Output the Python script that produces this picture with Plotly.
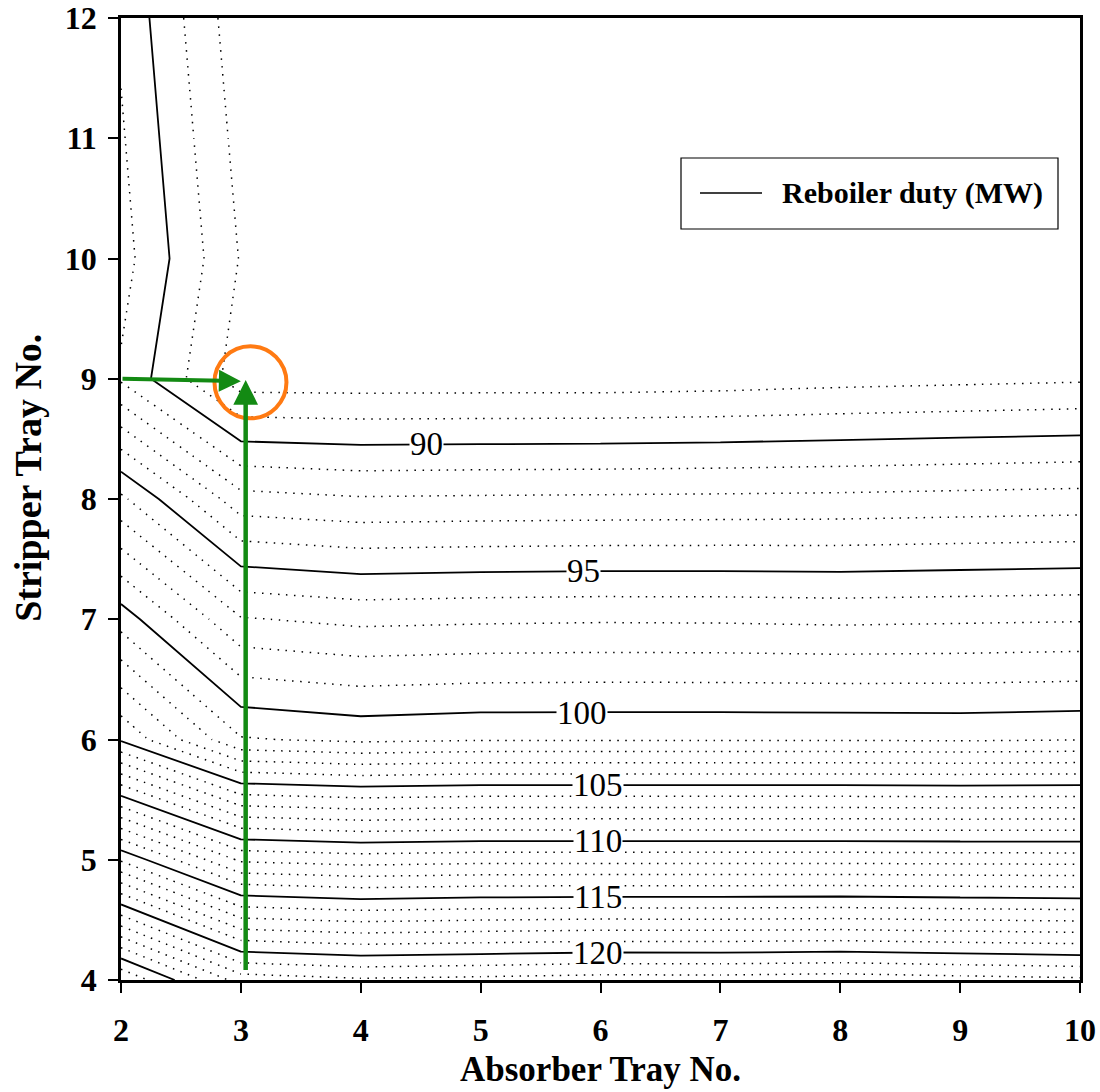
import numpy as np
import plotly.graph_objects as go

# Absorber tray numbers (x) and stripper tray numbers (y)
absorber_trays = [2, 3, 4, 5, 6, 7, 8, 9, 10]
stripper_trays = [4, 5, 6, 7, 8, 9, 10, 11, 12]

# Reboiler duty (MW) along the stripper trays 4..12, one list per absorber tray
duty_abs2 = [127.0, 115.86, 104.85, 100.55, 96.22, 90.85, 91.41, 91.12, 90.83]
duty_abs3 = [122.53, 111.82, 101.09, 97.08, 92.35, 87.45, 87.93, 87.63, 87.33]
duty_abs4 = [122.15, 111.53, 100.78, 96.75, 92.09, 87.44, 87.50, 87.50, 87.50]
duty_abs5 = [122.29, 111.67, 100.92, 96.84, 92.14, 87.45, 87.50, 87.50, 87.50]
duty_abs6 = [122.47, 111.67, 100.92, 96.89, 92.17, 87.45, 87.50, 87.50, 87.50]
duty_abs7 = [122.45, 111.67, 100.92, 96.87, 92.20, 87.53, 87.50, 87.50, 87.50]
duty_abs8 = [122.57, 111.67, 100.92, 96.80, 92.24, 87.67, 87.50, 87.50, 87.50]
duty_abs9 = [122.37, 111.63, 100.88, 96.86, 92.32, 87.77, 87.50, 87.50, 87.50]
duty_abs10 = [122.20, 111.60, 100.96, 96.92, 92.40, 87.87, 87.50, 87.50, 87.50]

# Labelled (major) contour levels and where their labels sit
major_levels = [90, 95, 100, 105, 110, 115, 120]
label_x = [4.545, 5.86, 5.843, 5.975, 5.975, 5.975, 5.975]
label_y = [8.455, 7.40, 6.223, 5.618, 5.152, 4.690, 4.222]

# Selected design point: absorber tray 3, stripper tray 9
design_absorber = 3
design_stripper = 9

columns = [duty_abs2, duty_abs3, duty_abs4, duty_abs5, duty_abs6,
           duty_abs7, duty_abs8, duty_abs9, duty_abs10]
z = np.array(columns).T  # rows = stripper trays, columns = absorber trays

SERIF = "Liberation Serif, Times New Roman, serif"
BLACK = [[0, "black"], [1, "black"]]

fig = go.Figure()

# Minor contours every 1 MW (dotted), skipping the labelled 5 MW levels
for offset in (1, 2, 3, 4):
    fig.add_trace(go.Contour(
        x=absorber_trays, y=stripper_trays, z=z,
        autocontour=False,
        contours=dict(coloring="lines", start=85 + offset, end=130, size=5,
                      showlabels=False),
        colorscale=BLACK, showscale=False,
        line=dict(width=1.5, dash="1.5px,6.5px", smoothing=0),
        hoverinfo="skip",
    ))

# Major contours every 5 MW (solid)
fig.add_trace(go.Contour(
    x=absorber_trays, y=stripper_trays, z=z,
    autocontour=False,
    contours=dict(coloring="lines", start=90, end=125, size=5, showlabels=False),
    colorscale=BLACK, showscale=False,
    line=dict(width=1.8, dash="solid", smoothing=0),
    hoverinfo="skip",
))

annotations = []
for lvl, lx, ly in zip(major_levels, label_x, label_y):
    annotations.append(dict(
        x=lx, y=ly, xref="x", yref="y", text=str(lvl), showarrow=False,
        font=dict(family=SERIF, size=33, color="black"),
        bgcolor="white", borderpad=0, xanchor="center", yanchor="middle",
    ))

GREEN = "#138a13"
# Arrow along stripper tray 9 towards the design point
annotations.append(dict(
    x=design_absorber, y=design_stripper - 0.02, xref="x", yref="y",
    ax=2.0, ay=design_stripper, axref="x", ayref="y",
    text="", showarrow=True, arrowhead=2, arrowsize=1.1, arrowwidth=4,
    arrowcolor=GREEN, standoff=0,
))
# Arrow up absorber tray 3 towards the design point
annotations.append(dict(
    x=design_absorber + 0.04, y=design_stripper - 0.01, xref="x", yref="y",
    ax=design_absorber + 0.04, ay=4.07, axref="x", ayref="y",
    text="", showarrow=True, arrowhead=2, arrowsize=1.1, arrowwidth=4.5,
    arrowcolor=GREEN, standoff=0,
))

# Axis titles
annotations.append(dict(
    x=0.5, y=(980 - 1069) / 962, xref="paper", yref="paper",
    text="Absorber Tray No.",
    showarrow=False, xanchor="center", yanchor="middle",
    font=dict(family=SERIF, size=35, color="black", weight="bold"),
))
annotations.append(dict(
    x=-0.097, y=0.522, xref="paper", yref="paper", text="Stripper Tray No.",
    showarrow=False, xanchor="center", yanchor="middle", textangle=-90,
    font=dict(family=SERIF, size=38, color="black", weight="bold"),
))

# Legend entry
annotations.append(dict(
    x=(780 - 121) / 959, y=(980 - 193) / 962, xref="paper", yref="paper",
    text="Reboiler duty (MW)", showarrow=False, xanchor="left", yanchor="middle",
    font=dict(family=SERIF, size=30, color="black", weight="bold"),
))

shapes = [
    # highlight ring around the design point
    dict(type="circle", xref="x", yref="y", xsizemode="pixel", ysizemode="pixel",
         xanchor=design_absorber + 0.08, yanchor=design_stripper - 0.03,
         x0=-36, x1=36, y0=-36, y1=36,
         line=dict(color="#ff7a12", width=4)),
    # legend frame and sample line
    dict(type="rect", xref="paper", yref="paper",
         x0=(681 - 121) / 959, x1=(1058 - 121) / 959,
         y0=(980 - 229) / 962, y1=(980 - 158) / 962,
         line=dict(color="black", width=1.2), fillcolor="white", layer="below"),
    dict(type="line", xref="paper", yref="paper",
         x0=(700 - 121) / 959, x1=(762 - 121) / 959,
         y0=(980 - 193) / 962, y1=(980 - 193) / 962,
         line=dict(color="black", width=1.5)),
]

tick_font = dict(family=SERIF, size=32, color="black", weight="bold")
fig.update_layout(
    width=1100, height=1092,
    margin=dict(l=121, r=20, t=18, b=112, autoexpand=False),
    paper_bgcolor="white", plot_bgcolor="white",
    showlegend=False,
    annotations=annotations,
    shapes=shapes,
    xaxis=dict(range=[2, 10], tickvals=absorber_trays, ticks="outside",
               ticklen=10, tickwidth=2, tickcolor="black",
               showline=True, linecolor="black", linewidth=2.5, mirror=True,
               showgrid=False, zeroline=False, tickfont=tick_font,
               ticklabelstandoff=10, automargin=False),
    yaxis=dict(range=[4, 12], tickvals=stripper_trays, ticks="outside",
               ticklen=10, tickwidth=2, tickcolor="black",
               showline=True, linecolor="black", linewidth=2.5, mirror=True,
               showgrid=False, zeroline=False, tickfont=tick_font,
               ticklabelstandoff=5, automargin=False),
)

fig.write_html("out.html")
